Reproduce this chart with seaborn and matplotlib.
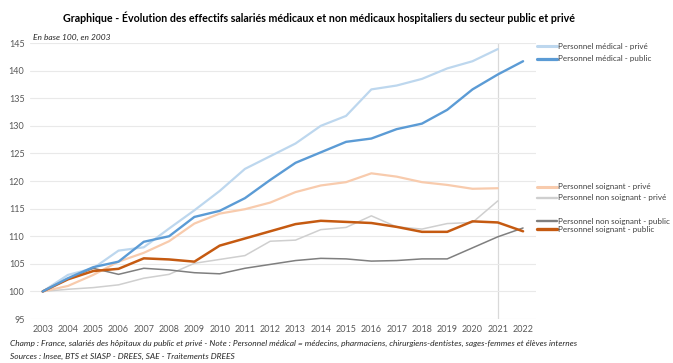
import numpy as np
import pandas as pd
import matplotlib.pyplot as plt
import seaborn as sns
from matplotlib.lines import Line2D

years = list(range(2003, 2023))

medical_prive = [100, 103.0, 104.2, 107.4, 108.0, 111.4, 114.7, 118.2, 122.2, 124.5,
                 126.8, 130.0, 131.8, 136.6, 137.3, 138.5, 140.4, 141.7, 143.9, np.nan]
medical_public = [100, 102.4, 104.4, 105.4, 109.0, 110.0, 113.5, 114.6, 116.9, 120.2,
                  123.3, 125.2, 127.1, 127.7, 129.4, 130.4, 132.9, 136.6, 139.3, 141.7]
soignant_prive = [100, 101.0, 103.0, 105.4, 107.0, 109.1, 112.3, 114.1, 114.9, 116.1,
                  118.0, 119.2, 119.8, 121.4, 120.8, 119.8, 119.3, 118.6, 118.7, np.nan]
non_soignant_prive = [100, 100.4, 100.7, 101.2, 102.4, 103.1, 105.1, 105.8, 106.5, 109.1,
                      109.3, 111.2, 111.6, 113.7, 111.7, 111.3, 112.3, 112.5, 116.4, np.nan]
non_soignant_public = [100, 102.3, 104.2, 103.1, 104.2, 103.9, 103.4, 103.2, 104.2, 104.9,
                       105.6, 106.0, 105.9, 105.5, 105.6, 105.9, 105.9, 107.9, 109.9, 111.5]
soignant_public = [100, 102.2, 103.7, 104.1, 106.0, 105.8, 105.4, 108.3, 109.6, 110.9,
                   112.2, 112.8, 112.6, 112.4, 111.7, 110.8, 110.8, 112.7, 112.5, 110.9]

labels = ["Personnel médical - privé", "Personnel médical - public",
          "Personnel soignant - privé", "Personnel non soignant - privé",
          "Personnel non soignant - public", "Personnel soignant - public"]
colors = ["#BDD7EE", "#5B9BD5", "#F8CBAD", "#CFCFCF", "#7F7F7F", "#C55A11"]
widths = [1.6, 1.7, 1.6, 1.1, 1.1, 1.8]

df = pd.DataFrame({"annee": years,
                   labels[0]: medical_prive, labels[1]: medical_public,
                   labels[2]: soignant_prive, labels[3]: non_soignant_prive,
                   labels[4]: non_soignant_public, labels[5]: soignant_public})
long = df.melt(id_vars="annee", var_name="serie", value_name="indice").dropna()

sns.set_style("white")
plt.rcParams['font.family'] = ['Lato', 'DejaVu Sans']

fig = plt.figure(figsize=(6.73, 3.63), dpi=100)
ax = fig.add_axes([0.0446, 0.121, 0.7514, 0.7605])

order = [labels[3], labels[2], labels[0], labels[4], labels[5], labels[1]]
sns.lineplot(data=long, x="annee", y="indice", hue="serie", hue_order=order,
             palette=dict(zip(labels, colors)), size="serie", size_order=order,
             sizes=dict(zip(labels, widths)), legend=False, ax=ax)

ax.axvline(2021, color="#D9D9D9", lw=0.9, zorder=0)
ax.set_xlim(2002.5, 2022.5)
ax.set_ylim(95, 145)
ax.set_yticks(range(95, 146, 5))
ax.set_xticks(years)
ax.yaxis.grid(True, color="#E9E9E9", lw=0.8)
ax.set_axisbelow(True)
for s in ax.spines.values():
    s.set_visible(False)
ax.tick_params(axis="both", length=0, labelsize=6.5, colors="#595959", pad=4)
ax.set_xlabel("")
ax.set_ylabel("")

fig.text(0.474, 0.951, "Graphique - Évolution des effectifs salariés médicaux et non médicaux hospitaliers du secteur public et privé",
         ha="center", va="center", fontsize=7.7, fontweight="bold", color="#000000")
fig.text(33 / 673, 1 - 37 / 363, "En base 100, en 2003", fontsize=6, style="italic", va="center")
fig.text(10 / 673, 1 - 343 / 363,
         "Champ : France, salariés des hôpitaux du public et privé - Note : Personnel médical = médecins, pharmaciens, chirurgiens-dentistes, sages-femmes et élèves internes",
         fontsize=6, style="italic", va="center")
fig.text(10 / 673, 1 - 356 / 363, "Sources : Insee, BTS et SIASP - DREES, SAE - Traitements DREES",
         fontsize=6, style="italic", va="center")

leg_y = [46, 59, 187, 198, 221, 229]
for lab, col, w, y in zip(labels, colors, widths, leg_y):
    yy = 1 - y / 363
    fig.add_artist(Line2D([537 / 673, 557 / 673], [yy, yy], color=col, lw=w + 0.6,
                          transform=fig.transFigure))
    fig.text(558 / 673, yy, lab, fontsize=5.8, va="center", color="#404040")

fig.savefig("out.png", dpi=100)
